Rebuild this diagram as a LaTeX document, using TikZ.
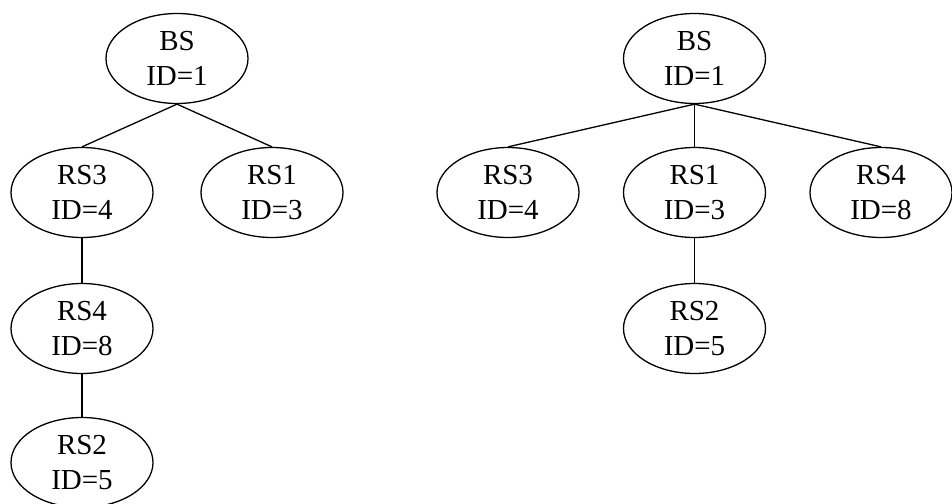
\documentclass[tikz,border=0pt]{standalone}
\usepackage{fontspec}
\setmainfont{Liberation Serif}
\usetikzlibrary{shapes.geometric}
\tikzstyle{station} = [ellipse,
                       draw=black,
                       line width=1.3pt,
                       minimum width=142pt,
                       minimum height=90pt,
                       inner sep=0pt,
                       align=center,
                       font=\fontsize{29}{35}\selectfont]
\tikzstyle{link} = [line width=1.3pt]
\begin{document}
\begin{tikzpicture}[node distance=134pt]

    \useasboundingbox (0,0) rectangle (952pt,-503pt);

    % left tree
    \node (bsA)  [station] at (177pt,-58.5pt)          {BS\\ID=1};
    \node (rs3A) [station, below of=bsA, xshift=-95pt] {RS3\\ID=4};
    \node (rs1A) [station, below of=bsA, xshift=95pt]  {RS1\\ID=3};
    \node (rs4A) [station, below of=rs3A, yshift=-2pt] {RS4\\ID=8};
    \node (rs2A) [station, below of=rs4A]              {RS2\\ID=5};

    \draw [link] (bsA.south)  -- (rs3A.north);
    \draw [link] (bsA.south)  -- (rs1A.north);
    \draw [link] (rs3A.south) -- (rs4A.north);
    \draw [link] (rs4A.south) -- (rs2A.north);

    % right tree
    \node (bsB)  [station] at (694.5pt,-58.5pt)         {BS\\ID=1};
    \node (rs3B) [station, below of=bsB, xshift=-186.5pt] {RS3\\ID=4};
    \node (rs1B) [station, below of=bsB]                {RS1\\ID=3};
    \node (rs4B) [station, below of=bsB, xshift=186.5pt]  {RS4\\ID=8};
    \node (rs2B) [station, below of=rs1B, yshift=-2pt]  {RS2\\ID=5};

    \draw [link] (bsB.south)  -- (rs3B.north);
    \draw [link] (bsB.south)  -- (rs1B.north);
    \draw [link] (bsB.south)  -- (rs4B.north);
    \draw [link] (rs1B.south) -- (rs2B.north);

\end{tikzpicture}
\end{document}
